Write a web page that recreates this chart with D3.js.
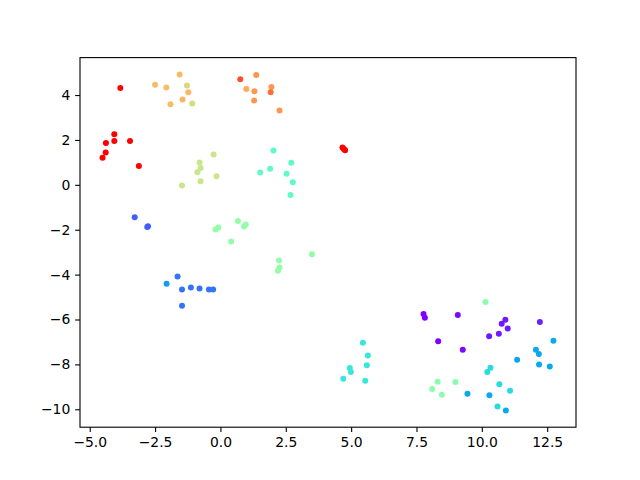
<!DOCTYPE html>
<html>
<head>
<meta charset="utf-8">
<script src="https://cdn.jsdelivr.net/npm/d3@7"></script>
<style>
  body { margin: 0; background: #fff; }
  #chart { width: 640px; height: 480px; }
</style>
</head>
<body>
<div id="chart"></div>
<script>
// ***************data*******************
const xValues = [
  -3.83, -4.06, -4.38, -4.06, -3.46, -4.39, -4.51, -3.12, 4.67, 4.72, 4.77,
  0.76, 1.37, 0.99, 1.30, 1.95, 1.92, 1.29, 2.26,
  -2.50, -2.07, -1.56, -1.28, -1.23, -1.45, -1.91, -1.08,
  -0.26, -0.80, -0.76, -0.88, -0.15, -0.76, -1.47,
  2.03, 2.71, 1.90, 1.52, 2.53, 2.77, 2.68,
  0.67, -0.08, -0.19, 0.97, 0.90, 0.41, 3.50, 2.24, 2.26, 2.20,
  10.14, 8.31, 8.99, 8.10, 8.47,
  -3.28, -2.77, -2.80,
  -1.64, -1.47, -1.13, -0.80, -0.44, -0.28, -1.47, -2.06,
  12.74, 12.07, 12.18, 11.35, 12.19, 12.60, 9.45, 10.29, 10.92,
  10.33, 10.21, 10.67, 11.08, 10.60,
  5.45, 5.64, 5.60, 4.95, 4.99, 4.70, 5.54,
  7.77, 7.82, 9.08, 8.33, 9.27, 10.90, 10.76, 10.99, 10.65, 10.28, 12.22
];
const yValues = [
  4.31, 2.25, 1.86, 1.95, 1.95, 1.44, 1.21, 0.84, 1.66, 1.60, 1.54,
  4.70, 4.89, 4.27, 4.17, 4.36, 4.12, 3.76, 3.31,
  4.46, 4.34, 4.92, 4.42, 4.12, 3.80, 3.59, 3.62,
  1.35, 0.99, 0.75, 0.56, 0.38, 0.16, -0.03,
  1.53, 0.98, 0.72, 0.55, 0.49, 0.12, -0.45,
  -1.61, -1.90, -1.99, -1.77, -1.86, -2.52, -3.09, -3.37, -3.68, -3.83,
  -5.22, -8.77, -8.78, -9.10, -9.35,
  -1.44, -1.84, -1.88,
  -4.08, -4.66, -4.57, -4.62, -4.66, -4.66, -5.39, -4.41,
  -6.95, -7.35, -7.54, -7.79, -8.01, -8.09, -9.31, -9.38, -10.05,
  -8.15, -8.34, -8.89, -9.17, -9.88,
  -7.04, -7.60, -8.04, -8.16, -8.34, -8.64, -8.73,
  -5.76, -5.92, -5.80, -6.97, -7.35, -6.01, -6.19, -6.40, -6.64, -6.75, -6.11
];
const colorValues = [
  1, 1, 1, 1, 1, 1, 1, 1, 1, 1, 1,
  0.9, 0.8, 0.77, 0.8, 0.8, 0.86, 0.8, 0.8,
  0.73, 0.73, 0.74, 0.68, 0.75, 0.75, 0.73, 0.67,
  0.64, 0.64, 0.64, 0.64, 0.64, 0.64, 0.64,
  0.44, 0.44, 0.44, 0.44, 0.44, 0.44, 0.44,
  0.54, 0.54, 0.54, 0.54, 0.54, 0.54, 0.54, 0.54, 0.54, 0.54,
  0.52, 0.52, 0.52, 0.52, 0.52,
  0.12, 0.12, 0.12,
  0.15, 0.15, 0.15, 0.15, 0.15, 0.15, 0.15, 0.21,
  0.23, 0.23, 0.23, 0.23, 0.23, 0.23, 0.23, 0.23, 0.23,
  0.33, 0.33, 0.33, 0.33, 0.33,
  0.36, 0.36, 0.36, 0.36, 0.36, 0.36, 0.36,
  0, 0, 0.01, 0, 0.01, 0.03, 0.03, 0.03, 0.03, 0.03, 0.04
];
const xTicks = [-5, -2.5, 0, 2.5, 5, 7.5, 10, 12.5];
const yTicks = [-10, -8, -6, -4, -2, 0, 2, 4];

const points = xValues.map((x, i) => ({ x, y: yValues[i], c: colorValues[i] }));

// ***************layout*******************
const node = document.getElementById('chart');
const width = 640;
const height = 480;
const margin = { left: 80, right: 64, top: 57.6, bottom: 52.8 };
const plotW = width - margin.left - margin.right;
const plotH = height - margin.top - margin.bottom;

// matplotlib style 5% margins
function padded(ext) {
  const pad = (ext[1] - ext[0]) * 0.05;
  return [ext[0] - pad, ext[1] + pad];
}
const x = d3.scaleLinear().domain(padded(d3.extent(xValues))).range([0, plotW]);
const y = d3.scaleLinear().domain(padded(d3.extent(yValues))).range([plotH, 0]);

// matplotlib 'rainbow' colormap
const rainbow = (t) => {
  const cl = (v) => Math.max(0, Math.min(1, v)) * 255;
  return d3.rgb(cl(Math.abs(2 * t - 0.5)), cl(Math.sin(Math.PI * t)), cl(Math.cos(Math.PI * t / 2))).formatHex();
};
const color = d3.scaleSequential(rainbow).domain([0, 1]);

const svg = d3.select(node).append('svg')
  .attr('width', width)
  .attr('height', height);

const g = svg.append('g')
  .attr('transform', `translate(${margin.left},${margin.top})`);

// points
g.selectAll('.dot')
  .data(points)
  .enter()
  .append('circle')
  .attr('class', 'dot')
  .attr('cx', (d) => x(d.x))
  .attr('cy', (d) => y(d.y))
  .attr('r', 3)
  .attr('fill', (d) => color(d.c));

const minus = (s) => s.replace('-', '\u2212');

const xAxis = g.append('g')
  .attr('transform', `translate(0,${plotH})`)
  .call(d3.axisBottom(x).tickValues(xTicks).tickFormat((d) => minus(d3.format('.1f')(d)))
    .tickSize(4.86).tickSizeOuter(0).tickPadding(4.86));

const yAxis = g.append('g')
  .call(d3.axisLeft(y).tickValues(yTicks).tickFormat((d) => minus(String(d)))
    .tickSize(4.86).tickSizeOuter(0).tickPadding(4.86));

[xAxis, yAxis].forEach((a) => {
  a.select('.domain').remove();
  a.selectAll('line').attr('stroke', '#000').attr('stroke-width', 1.1);
  a.selectAll('text')
    .attr('fill', '#000')
    .style('font-family', '"DejaVu Sans", sans-serif')
    .style('font-size', '13.9px');
});

// frame
g.append('rect')
  .attr('width', plotW)
  .attr('height', plotH)
  .attr('fill', 'none')
  .attr('stroke', '#000')
  .attr('stroke-width', 1.1);
</script>
</body>
</html>
